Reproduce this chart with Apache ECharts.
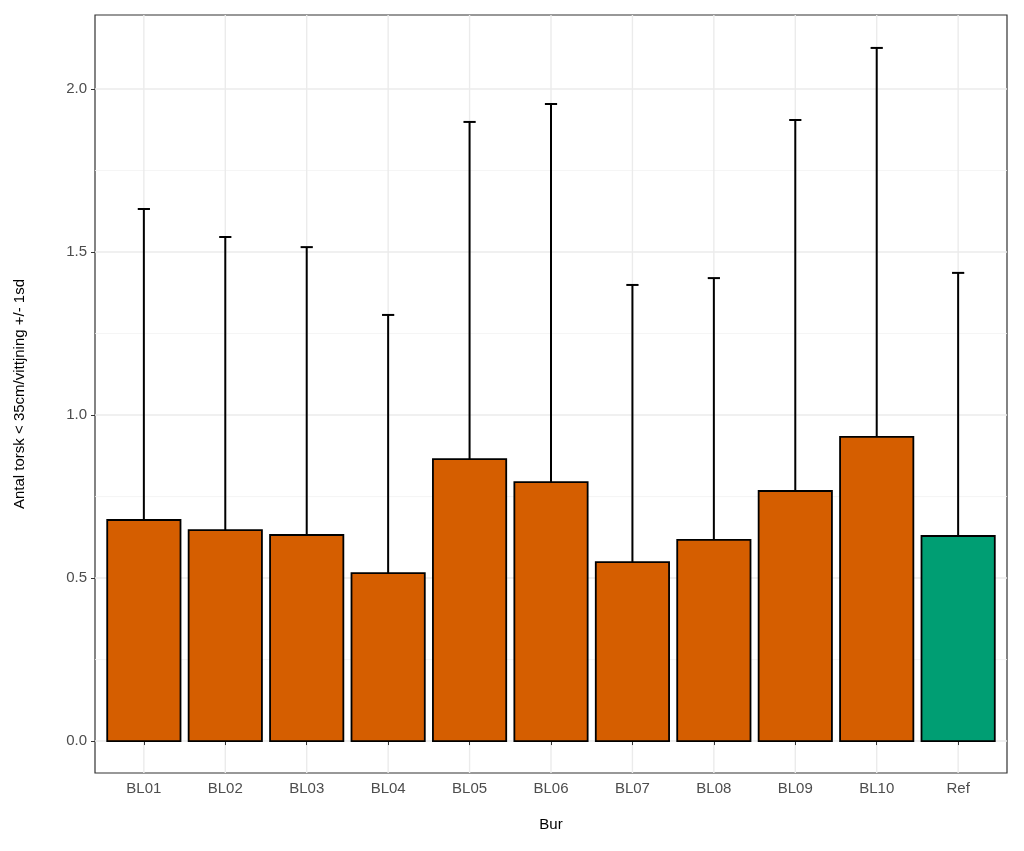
<!DOCTYPE html>
<html><head><meta charset="utf-8">
<script src="https://cdn.jsdelivr.net/npm/echarts@6/dist/echarts.min.js"></script>
<style>html,body{margin:0;padding:0;background:#fff}#c{width:1024px;height:851px}</style>
</head><body><div id="c"></div>
<script>
const categories = ['BL01','BL02','BL03','BL04','BL05','BL06','BL07','BL08','BL09','BL10','Ref'];
const means = [0.678,0.647,0.632,0.515,0.865,0.794,0.549,0.617,0.767,0.933,0.629];
const upper = [1.632,1.546,1.515,1.307,1.899,1.954,1.399,1.420,1.905,2.126,1.436];
const colors = ['#D55E00','#D55E00','#D55E00','#D55E00','#D55E00','#D55E00','#D55E00','#D55E00','#D55E00','#D55E00','#009E73'];
const yTicks = [0.0,0.5,1.0,1.5,2.0];
const yMinor = [0.25,0.75,1.25,1.75];
const xPos = categories.map((c,i)=>i+1);

const chart = echarts.init(document.getElementById('c'));
const font = 'Liberation Sans, Arial, sans-serif';
chart.setOption({
  animation:false,
  grid:{left:95,right:17,top:15,bottom:78,show:true,borderColor:'#333',borderWidth:1.2,containLabel:false},
  xAxis:{type:'value',min:0.4,max:11.6,name:'Bur',nameLocation:'middle',nameGap:44,
    nameTextStyle:{fontFamily:font,fontSize:15,color:'#000'},
    axisLine:{show:false},axisTick:{show:true,length:4,lineStyle:{color:'#333'},customValues:xPos},
    axisLabel:{fontFamily:font,fontSize:15,color:'#4d4d4d',margin:8,customValues:xPos,formatter:v=>categories[Math.round(v)-1]||''},
    splitLine:{show:false}},
  yAxis:{type:'value',min:-0.098,max:2.227,name:'Antal torsk < 35cm/vittjning +/- 1sd',nameLocation:'middle',nameGap:68,
    nameTextStyle:{fontFamily:font,fontSize:15,color:'#000'},
    axisLine:{show:false},axisTick:{show:true,length:4,lineStyle:{color:'#333'},customValues:yTicks},
    axisLabel:{fontFamily:font,fontSize:15,color:'#4d4d4d',customValues:yTicks,formatter:v=>v.toFixed(1)},
    splitLine:{show:false}},
  series:[
    {type:'custom',z:0,silent:true,data:[[0]],
      renderItem:(p,api)=>{
        const ch=[];
        const x0=api.coord([0.4,0])[0], x1=api.coord([11.6,0])[0];
        const yt=api.coord([1,2.227])[1], yb=api.coord([1,-0.098])[1];
        yMinor.forEach(v=>{const y=api.coord([1,v])[1];ch.push({type:'line',shape:{x1:x0,y1:y,x2:x1,y2:y},style:{stroke:'#f3f3f3',lineWidth:0.8}});});
        yTicks.forEach(v=>{const y=api.coord([1,v])[1];ch.push({type:'line',shape:{x1:x0,y1:y,x2:x1,y2:y},style:{stroke:'#ebebeb',lineWidth:1.4}});});
        xPos.forEach(v=>{const x=api.coord([v,0])[0];ch.push({type:'line',shape:{x1:x,y1:yt,x2:x,y2:yb},style:{stroke:'#ebebeb',lineWidth:1.4}});});
        return {type:'group',children:ch};
      }},
    {type:'custom',z:2,data:xPos.map((x,i)=>[x,means[i],upper[i]]),
      renderItem:(p,api)=>{
        const lo=api.coord([api.value(0),api.value(1)]);
        const hi=api.coord([api.value(0),api.value(2)]);
        const w=api.size([0.15,0])[0];
        const st={stroke:'#000',lineWidth:2};
        return {type:'group',children:[
          {type:'line',shape:{x1:lo[0],y1:lo[1],x2:hi[0],y2:hi[1]},style:st},
          {type:'line',shape:{x1:hi[0]-w/2,y1:hi[1],x2:hi[0]+w/2,y2:hi[1]},style:st}]};
      }},
    {type:'custom',z:3,data:xPos.map((x,i)=>[x,means[i]]),
      renderItem:(p,api)=>{
        const i=p.dataIndex;
        const a=api.coord([api.value(0)-0.45,api.value(1)]);
        const b=api.coord([api.value(0)+0.45,0]);
        return {type:'rect',shape:{x:a[0],y:a[1],width:b[0]-a[0],height:b[1]-a[1]},
          style:{fill:colors[i],stroke:'#000',lineWidth:1.8}};
      }}
  ]
});
</script></body></html>
